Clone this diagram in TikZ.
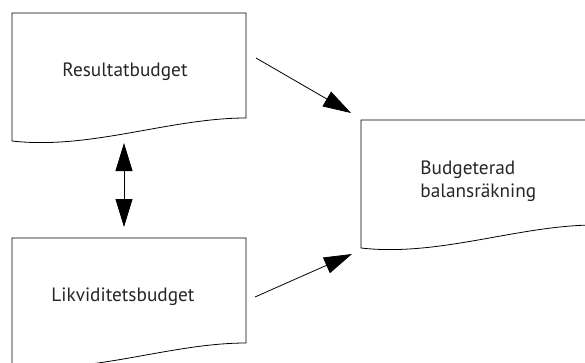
\documentclass[tikz,border=0pt]{standalone}
\usepackage{fontspec}
\setmainfont{PT Sans}
\usetikzlibrary{arrows.meta,calc}
\begin{document}
\begin{tikzpicture}[x=1pt,y=-1pt,line width=0.8pt,
  box/.style={minimum width=234pt,minimum height=128pt,inner sep=0pt,outer sep=0pt},
  lbl/.style={font=\fontsize{19.3}{23}\selectfont,inner sep=0pt,text=black!85},
  arr/.style={-{Triangle[length=28pt,width=17pt]}},
  dbl/.style={{Triangle[length=28pt,width=17pt]}-{Triangle[length=28pt,width=17pt]}},
  doc/.style={draw=black,line width=0.8pt}
]
\clip (0,0) rectangle (585,362);
\node[box] (res) at (129,77) {};
\node[box] (liq) at (129,302) {};
\node[box] (bal) at (478,184) {};
\foreach \b in {res,liq,bal}{
  \draw[doc] (\b.north west) -- (\b.north east) -- ($(\b.south east)+(0,-23)$)
    .. controls +(-76,0) and +(78,9) .. (\b.south west) -- cycle;
}
\node[lbl,anchor=base] (rest) at (125,76) {Resultatbudget};
\node[lbl,anchor=base] (liqt) at (123,301) {Likviditetsbudget};
\node[lbl,anchor=base west,align=left] (balt) at (420,197) {Budgeterad\\balansräkning};
\draw[dbl] ($(res.south)+(-5,2)$) -- ($(liq.north)+(-5,-11)$);
\draw[arr] ($(res.east)+(10,-19)$) -- ($(bal.north west)+(-10,-7)$);
\draw[arr] ($(liq.east)+(9,-5)$) -- ($(bal.south west)+(-9,6)$);
\end{tikzpicture}
\end{document}
